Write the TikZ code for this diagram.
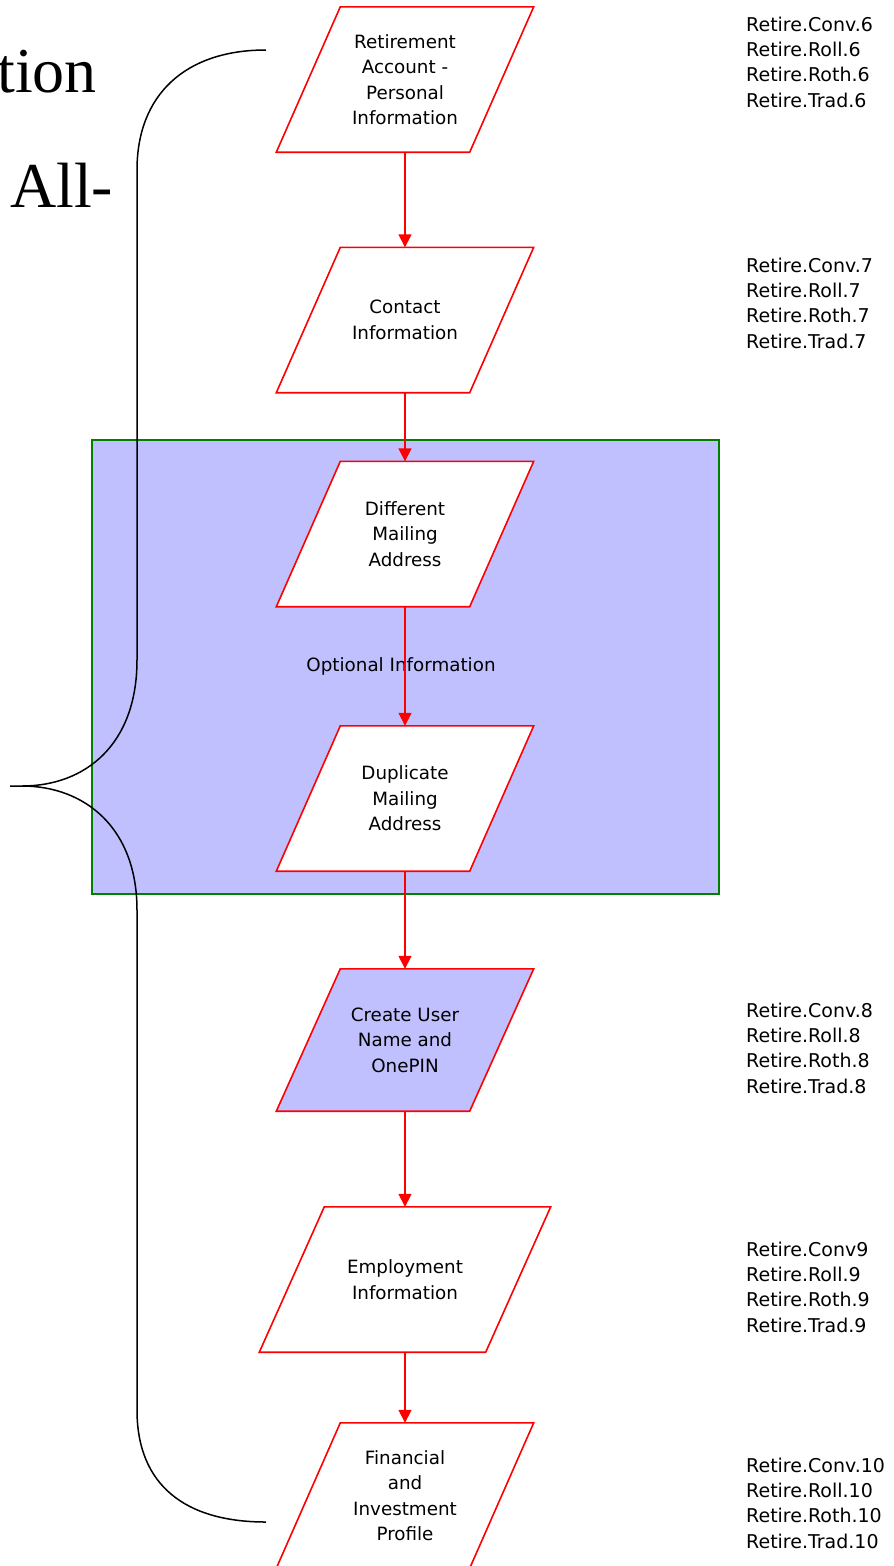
\documentclass[tikz,border=0pt]{standalone}
\usepackage{fontspec}
\newfontfamily\uifont{DejaVu Sans}
\newfontfamily\bigserif{Liberation Serif}
\usetikzlibrary{arrows.meta,backgrounds}
\definecolor{optblue}{RGB}{192,192,255}
\definecolor{optgreen}{RGB}{0,128,0}
\tikzset{
  flowbox/.style={minimum width=257pt, minimum height=145pt, inner sep=0pt,
    align=center, font=\uifont\fontsize{18.3}{25.5}\selectfont},
  lbl/.style={anchor=west, align=left, inner sep=0pt,
    font=\uifont\fontsize{19}{25.3}\selectfont},
  flow/.style={draw=red, line width=1.6pt,
    -{Triangle[width=13pt,length=13pt]}},
  paraline/.style={draw=red, line width=1.6pt},
  bigtext/.style={inner sep=0pt, font=\bigserif\fontsize{64}{70}\selectfont}
}
\begin{document}
\begin{tikzpicture}[x=1pt,y=-1pt]
\useasboundingbox (0,0) rectangle (894,1566);

% flow steps (text; outlines are drawn on the background layer)
\node[flowbox] (p1) at (405,79.5)   {Retirement\\Account -\\Personal\\Information};
\node[flowbox] (p2) at (405,320)    {Contact\\Information};
\node[flowbox] (p3) at (405,534)    {Different\\Mailing\\Address};
\node[flowbox] (p4) at (405,798.5)  {Duplicate\\Mailing\\Address};
\node[flowbox, minimum height=142pt] (p5) at (405,1040) {Create User\\Name and\\OnePIN};
\node[flowbox, minimum width=291pt] (p6) at (405,1279.5) {Employment\\Information};
\node[flowbox] (p7) at (405,1495.5) {Financial\\and\\Investment\\Profile};

\begin{scope}[on background layer]
  \fill[white] (0,0) rectangle (894,1566);
  \node[draw=optgreen, line width=1.5pt, fill=optblue,
        minimum width=627pt, minimum height=454pt, inner sep=0pt]
        (optbox) at (405.5,667) {};
  \foreach \n/\s/\c in {p1/64/white, p2/64/white, p3/64/white, p4/64/white,
                        p5/64/optblue, p6/65/white, p7/64/white}
    \filldraw[paraline, fill=\c]
      ([xshift=\s pt]\n.north west) -- (\n.north east)
      -- ([xshift=-\s pt]\n.south east) -- (\n.south west) -- cycle;
\end{scope}

\node[font=\uifont\fontsize{18.3}{21}\selectfont, inner sep=0pt] (opt) at (401,666) {Optional Information};

% connectors
\draw[flow] (p1.south) -- (p2.north);
\draw[flow] (p2.south) -- (p3.north);
\draw[flow] (p3.south) -- (p4.north);
\draw[flow] (p4.south) -- (p5.north);
\draw[flow] (p5.south) -- (p6.north);
\draw[flow] (p6.south) -- (p7.north);

% page references
\node[lbl] (r1) at (746,62)   {Retire.Conv.6\\Retire.Roll.6\\Retire.Roth.6\\Retire.Trad.6};
\node[lbl] (r2) at (746,303)  {Retire.Conv.7\\Retire.Roll.7\\Retire.Roth.7\\Retire.Trad.7};
\node[lbl] (r3) at (746,1048) {Retire.Conv.8\\Retire.Roll.8\\Retire.Roth.8\\Retire.Trad.8};
\node[lbl] (r4) at (746,1287) {Retire.Conv9\\Retire.Roll.9\\Retire.Roth.9\\Retire.Trad.9};
\node[lbl] (r5) at (746,1503) {Retire.Conv.10\\Retire.Roll.10\\Retire.Roth.10\\Retire.Trad.10};

% large brace and its partial caption
\draw[line width=1.5pt]
  (266,50) .. controls (185,50) and (137,95) .. (137,170)
  -- (137,660) .. controls (137,745) and (85,786) .. (22,786) -- (10,786)
  -- (22,786) .. controls (85,786) and (137,828) .. (137,910)
  -- (137,1410) .. controls (137,1485) and (185,1522) .. (266,1522);
\node[bigtext, anchor=base east] (cap1) at (97,92) {tion};
\node[bigtext, anchor=base west] (cap2) at (10,207) {All-};
\end{tikzpicture}
\end{document}
